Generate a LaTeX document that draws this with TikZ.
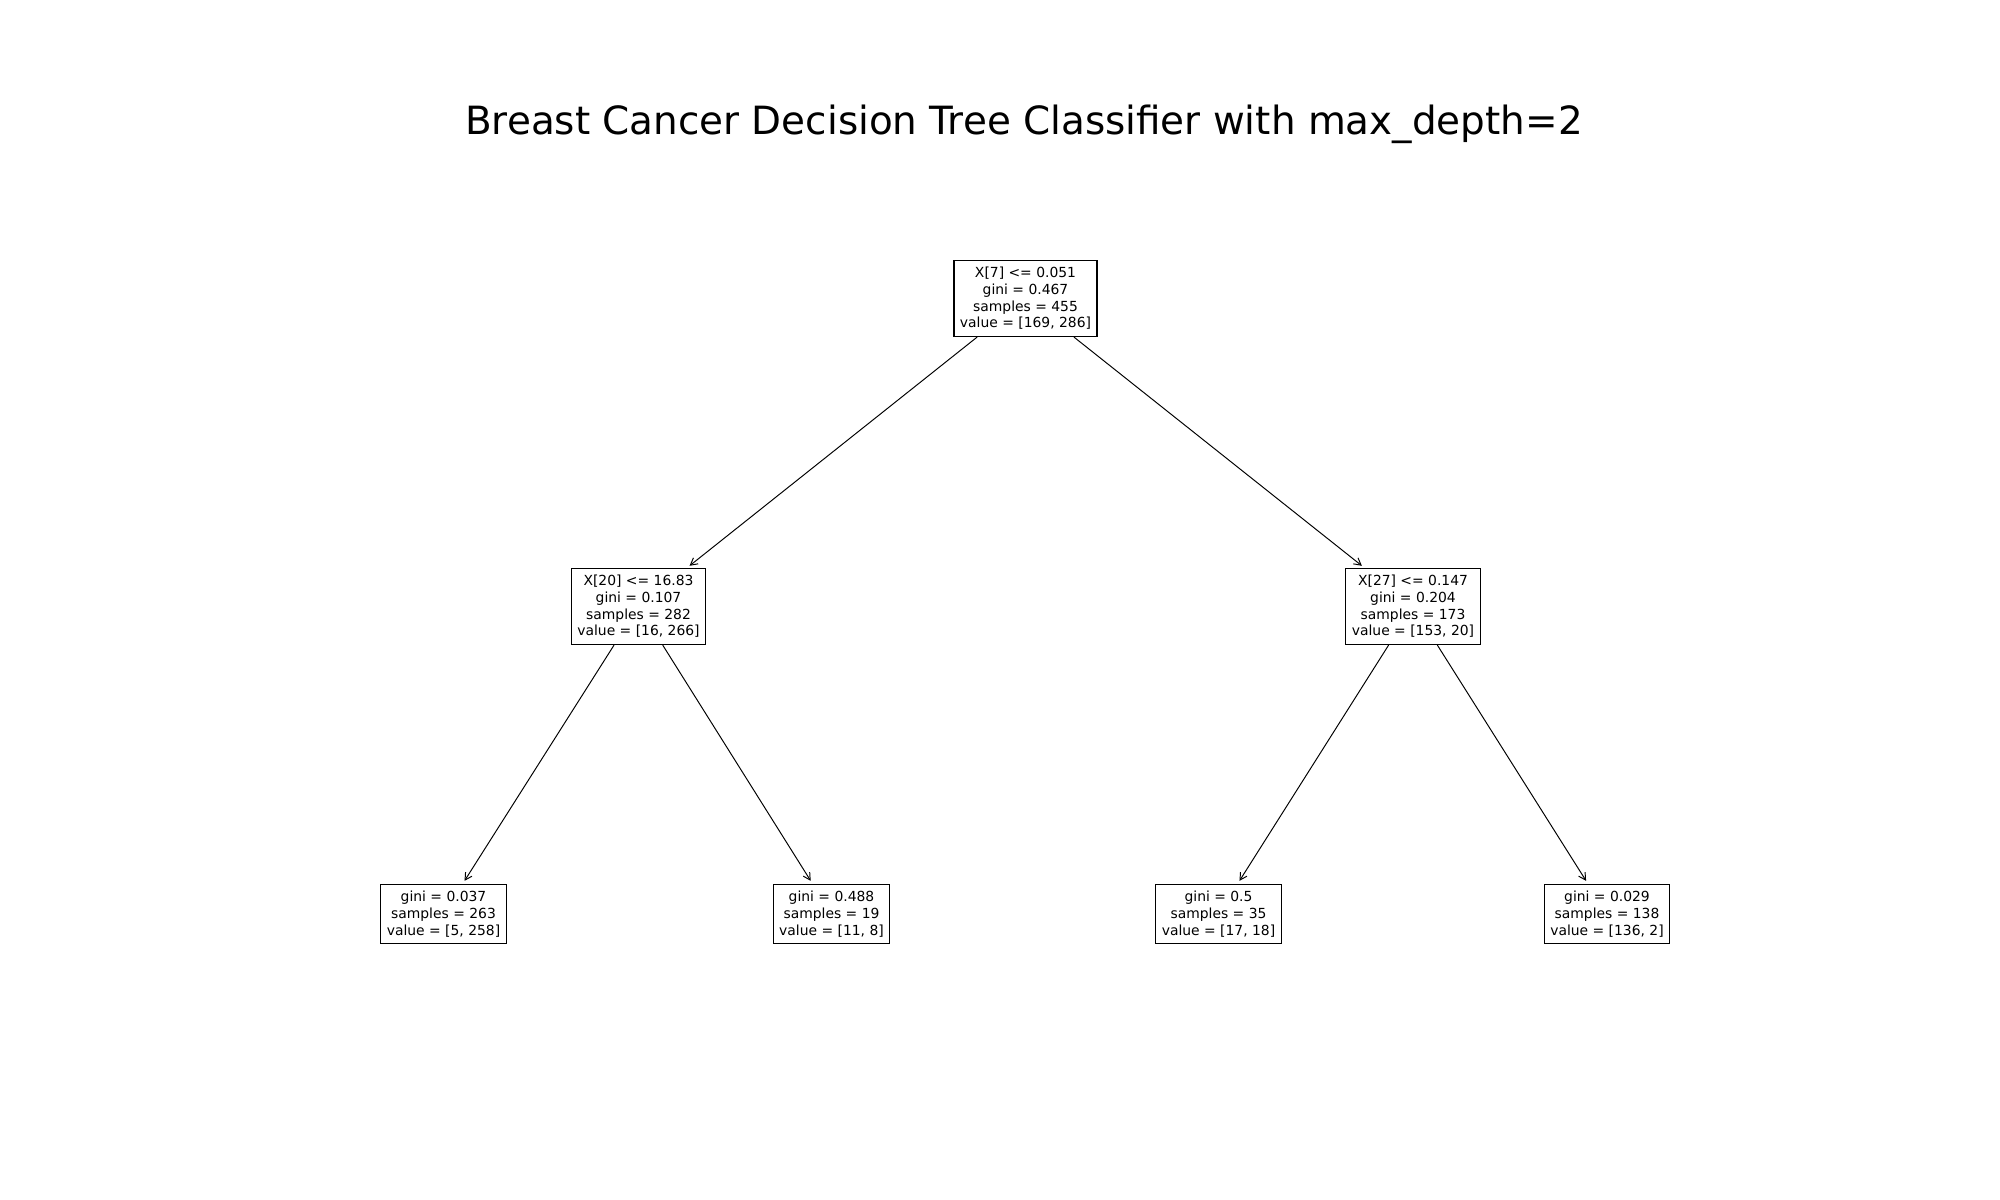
\documentclass[tikz,border=0pt]{standalone}
\usepackage{fontspec}
\setmainfont{DejaVu Sans}
\usetikzlibrary{arrows.meta}
\begin{document}
\begin{tikzpicture}[x=0.72pt,y=-0.72pt,
  treenode/.style={draw=black,line width=0.8pt,fill=white,align=center,
    font=\fontsize{10}{12}\selectfont,inner xsep=4.3pt,inner ysep=4.9pt},
  edge/.style={line width=0.7pt,-{Straight Barb[length=5pt,width=5.5pt,line width=0.7pt]},shorten >=2.5pt}]
\useasboundingbox (0,0) rectangle (2000,1200);
\node[font=\fontsize{28}{34}\selectfont,anchor=base] (title) at (1024,135) {Breast Cancer Decision Tree Classifier with max\_depth=2};
\node[treenode] (root) at (1025.5,298.5) {X[7] <= 0.051\\gini = 0.467\\samples = 455\\value = [169, 286]};
\node[treenode] (l) at (638.5,606.5) {X[20] <= 16.83\\gini = 0.107\\samples = 282\\value = [16, 266]};
\node[treenode] (r) at (1413,606.5) {X[27] <= 0.147\\gini = 0.204\\samples = 173\\value = [153, 20]};
\node[treenode] (ll) at (443.5,914) {gini = 0.037\\samples = 263\\value = [5, 258]};
\node[treenode] (lr) at (831.5,914) {gini = 0.488\\samples = 19\\value = [11, 8]};
\node[treenode] (rl) at (1218.5,914) {gini = 0.5\\samples = 35\\value = [17, 18]};
\node[treenode] (rr) at (1607,914) {gini = 0.029\\samples = 138\\value = [136, 2]};
\draw[edge] (root) -- (l);
\draw[edge] (root) -- (r);
\draw[edge] (l) -- (ll);
\draw[edge] (l) -- (lr);
\draw[edge] (r) -- (rl);
\draw[edge] (r) -- (rr);
\end{tikzpicture}
\end{document}
